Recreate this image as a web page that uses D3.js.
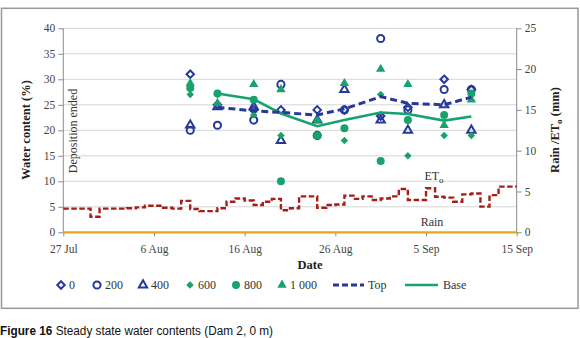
<!DOCTYPE html>
<html>
<head>
<meta charset="utf-8">
<script src="https://cdn.jsdelivr.net/npm/d3@7"></script>
<style>
  body { margin: 0; background: #fff; }
  .axis path, .axis line { stroke: #8c8c8c; }
</style>
</head>
<body>
<script>
const start = '2010-07-27';
const xTicks = ['2010-07-27', '2010-08-06', '2010-08-16', '2010-08-26', '2010-09-05', '2010-09-15'];

// fechas de medicion
const dates = ['2010-08-10', '2010-08-13', '2010-08-17', '2010-08-20', '2010-08-24',
               '2010-08-27', '2010-08-31', '2010-09-03', '2010-09-07', '2010-09-10'];

const d0    = [31, 25, 24, 24, 24, 24, 22.8, 24.5, 30, 28];
const d200  = [20, 21, 22, 29, 19, 24, 38, 24, 28, 28];
const d400  = [21, 24.6, 24.6, 18, 22, 28, 22, 20, 25, 20];
const d600  = [27, 27, 23, 19, 22, 18, 27, 15, 19, 19];
const d800  = [28.3, 27.2, 26, 10, 19, 20.4, 14, 22, 23, 27.2];
const d1000 = [29.2, 25.3, 29, 28, 22, 29.2, 32, 29, 21, 26];

// promedio superior / base (desde el 13 Aug)
const lineDates = dates.slice(1);
const top_ = [24.5, 23.8, 23.5, 23, 24.2, 26.6, 25.3, 25, 26.5];
const base = [27.2, 26.1, 23.3, 20.8, 22, 23.5, 23.2, 21.9, 22.7];

// ETo diario (mm), desde 27 Jul; el ultimo valor se repite para cerrar el escalon en 15 Sep
const eto = [2.9, 2.9, 2.9, 1.9, 2.9, 2.9, 2.9, 2.95, 3.05, 3.25,
             3.25, 3.0, 2.9, 3.85, 2.85, 2.6, 2.6, 2.95, 3.75, 4.15,
             3.9, 3.35, 3.75, 4.1, 2.7, 2.95, 4.4, 4.4, 3.0, 3.35,
             3.4, 4.5, 4.1, 4.4, 3.95, 4.15, 4.4, 5.3, 3.95, 3.95,
             5.4, 4.35, 4.25, 3.75, 4.65, 4.75, 3.15, 4.55, 5.6, 5.6, 5.6];
const rain = [0, 0, 0, 0, 0, 0, 0, 0, 0, 0, 0, 0, 0, 0, 0, 0, 0, 0, 0, 0,
              0, 0, 0, 0, 0, 0, 0, 0, 0, 0, 0, 0, 0, 0, 0, 0, 0, 0, 0, 0,
              0, 0, 0, 0, 0, 0, 0, 0, 0, 0, 0];

const leftTicks = [0, 5, 10, 15, 20, 25, 30, 35, 40];
const rightTicks = [0, 5, 10, 15, 20, 25];

const BLUE = '#26399a', GREEN = '#16a36c', RED = '#a61e1a', GOLD = '#e9a81c';
const SERIF = '"Liberation Serif", "DejaVu Serif", serif';

const WIDTH = 580, HEIGHT = 338;
const margin = {top: 28.3, right: 63.3, bottom: 105.7, left: 63.3};
const width = WIDTH - margin.left - margin.right,
    height = HEIGHT - margin.top - margin.bottom;

const parse = d3.timeParse('%Y-%m-%d');

const svgRoot = d3.select('body').append('svg')
    .attr('width', WIDTH)
    .attr('height', HEIGHT)
    .attr('font-family', SERIF);

// marco exterior
svgRoot.append('rect')
    .attr('x', 1.5).attr('y', 8.3)
    .attr('width', 576.5).attr('height', 300)
    .attr('fill', 'none')
    .attr('stroke', '#999')
    .attr('stroke-width', 1.5);

const svg = svgRoot.append('g')
    .attr('transform', `translate(${margin.left},${margin.top})`);

const x = d3.scaleTime()
    .domain([parse(start), parse(xTicks[xTicks.length - 1])])
    .range([0, width]);
const y = d3.scaleLinear().domain([0, 40]).range([height, 0]);
const y2 = d3.scaleLinear().domain([0, 25]).range([height, 0]);

// lineas de grilla
svg.append('g').selectAll('line')
    .data(leftTicks.slice(1))
    .enter().append('line')
        .attr('x1', 0).attr('x2', width)
        .attr('y1', d => y(d)).attr('y2', d => y(d))
        .attr('stroke', '#d6d6d6')
        .attr('stroke-width', 1);

const styleAxis = g => g
    .attr('font-family', SERIF)
    .attr('font-size', 11.5)
    .call(g => g.selectAll('text').attr('fill', '#444'));

// ejes
svg.append('g')
    .attr('class', 'axis')
    .attr('transform', `translate(0,${height})`)
    .call(d3.axisBottom(x).tickValues(xTicks.map(parse)).tickFormat(d3.timeFormat('%-d %b')).tickSize(4).tickSizeOuter(0))
    .call(styleAxis)
    .call(g => g.selectAll('text').attr('dy', '1.15em'));

svg.append('g')
    .attr('class', 'axis')
    .call(d3.axisLeft(y).tickValues(leftTicks).tickSize(5).tickSizeOuter(0))
    .call(styleAxis)
    .call(g => g.select('.domain').attr('d', `M0,${height + 0.5}V0`));

svg.append('g')
    .attr('class', 'axis')
    .attr('transform', `translate(${width},0)`)
    .call(d3.axisRight(y2).tickValues(rightTicks).tickSize(5).tickSizeOuter(0))
    .call(styleAxis)
    .call(g => g.select('.domain').attr('d', `M0,${height + 0.5}V0`));

// ETo y lluvia (eje derecho)
const dayDate = i => d3.timeDay.offset(parse(start), i);

svg.append('path')
    .datum(rain)
    .attr('fill', 'none')
    .attr('stroke', GOLD)
    .attr('stroke-width', 2)
    .attr('d', d3.line().x((d, i) => x(dayDate(i))).y(d => y2(d)));

svg.append('path')
    .datum(eto)
    .attr('fill', 'none')
    .attr('stroke', RED)
    .attr('stroke-width', 2.4)
    .attr('stroke-dasharray', '5.5,2.5')
    .attr('d', d3.line().curve(d3.curveStepAfter).x((d, i) => x(dayDate(i))).y(d => y2(d)));

// puntos por profundidad
const diamond = {
    draw(ctx, size) {
        const r = Math.sqrt(size) / 2;
        ctx.moveTo(0, -r); ctx.lineTo(r, 0); ctx.lineTo(0, r); ctx.lineTo(-r, 0); ctx.closePath();
    }
};

const series = [
    {key: '0',     values: d0,    color: BLUE,  filled: false, type: diamond,           size: 56},
    {key: '200',   values: d200,  color: BLUE,  filled: false, type: d3.symbolCircle,   size: 40},
    {key: '400',   values: d400,  color: BLUE,  filled: false, type: d3.symbolTriangle, size: 30},
    {key: '600',   values: d600,  color: GREEN, filled: true,  type: diamond,           size: 56},
    {key: '800',   values: d800,  color: GREEN, filled: true,  type: d3.symbolCircle,   size: 50},
    {key: '1 000', values: d1000, color: GREEN, filled: true,  type: d3.symbolTriangle, size: 38}
];

const lineGen = d3.line().x((d, i) => x(parse(lineDates[i]))).y(d => y(d));

svg.selectAll('.serie')
    .data(series)
    .enter().append('g')
        .attr('class', 'serie')
    .each(function(s) {
        d3.select(this).selectAll('path')
            .data(s.values)
            .enter().append('path')
                .attr('transform', (d, i) => `translate(${x(parse(dates[i]))},${y(d)})`)
                .attr('d', d3.symbol().type(s.type).size(s.size))
                .attr('fill', s.filled ? s.color : 'none')
                .attr('stroke', s.filled ? 'none' : s.color)
                .attr('stroke-width', 2);
    });

svg.append('path')
    .datum(base)
    .attr('fill', 'none')
    .attr('stroke', GREEN)
    .attr('stroke-width', 2.6)
    .attr('d', lineGen);

svg.append('path')
    .datum(top_)
    .attr('fill', 'none')
    .attr('stroke', BLUE)
    .attr('stroke-width', 3)
    .attr('stroke-dasharray', '7,4')
    .attr('d', lineGen);

// anotaciones
svg.append('text')
    .attr('transform', `translate(${77 - margin.left},${131 - margin.top}) rotate(-90)`)
    .attr('text-anchor', 'middle')
    .attr('font-size', 12)
    .attr('fill', '#333')
    .text('Deposition ended');

const etoLabel = svg.append('text')
    .attr('x', 434 - margin.left)
    .attr('y', 180 - margin.top)
    .attr('text-anchor', 'middle')
    .attr('font-size', 12)
    .attr('fill', '#333')
    .text('ET');
etoLabel.append('tspan').attr('dy', 3).attr('font-size', 9).text('o');

svg.append('text')
    .attr('x', 432 - margin.left)
    .attr('y', 226 - margin.top)
    .attr('text-anchor', 'middle')
    .attr('font-size', 12)
    .attr('fill', '#333')
    .text('Rain');

// titulos de ejes
svgRoot.append('text')
    .attr('transform', 'translate(30,130) rotate(-90)')
    .attr('text-anchor', 'middle')
    .attr('font-weight', 'bold')
    .attr('font-size', 12.5)
    .attr('fill', '#222')
    .text('Water content (%)');

const rTitle = svgRoot.append('text')
    .attr('transform', 'translate(559,130) rotate(-90)')
    .attr('text-anchor', 'middle')
    .attr('font-weight', 'bold')
    .attr('font-size', 12.5)
    .attr('fill', '#222')
    .text('Rain /ET');
rTitle.append('tspan').attr('dy', 3).attr('font-size', 9).text('o');
rTitle.append('tspan').attr('dy', -3).text(' (mm)');

svgRoot.append('text')
    .attr('x', 310).attr('y', 269)
    .attr('text-anchor', 'middle')
    .attr('font-weight', 'bold')
    .attr('font-size', 12.5)
    .attr('fill', '#222')
    .text('Date');

// leyenda
const legendPos = [61, 97, 143, 190, 236, 282];
const legend = svgRoot.selectAll('.legend')
    .data(series)
    .enter().append('g')
        .attr('class', 'legend')
        .attr('transform', (d, i) => `translate(${legendPos[i]},285)`);

legend.append('path')
    .attr('d', s => d3.symbol().type(s.type).size(s.size)())
    .attr('fill', s => s.filled ? s.color : 'none')
    .attr('stroke', s => s.filled ? 'none' : s.color)
    .attr('stroke-width', 2);

legend.append('text')
    .attr('x', 8)
    .attr('dy', '0.35em')
    .attr('font-size', 12)
    .attr('fill', '#333')
    .text(s => s.key);

svgRoot.append('line')
    .attr('x1', 333).attr('x2', 364).attr('y1', 285).attr('y2', 285)
    .attr('stroke', BLUE).attr('stroke-width', 3).attr('stroke-dasharray', '6,3');
svgRoot.append('text')
    .attr('x', 368).attr('y', 285).attr('dy', '0.35em')
    .attr('font-size', 12).attr('fill', '#333').text('Top');

svgRoot.append('line')
    .attr('x1', 405).attr('x2', 438).attr('y1', 285).attr('y2', 285)
    .attr('stroke', GREEN).attr('stroke-width', 2.6);
svgRoot.append('text')
    .attr('x', 443).attr('y', 285).attr('dy', '0.35em')
    .attr('font-size', 12).attr('fill', '#333').text('Base');

// pie de figura
const caption = svgRoot.append('text')
    .attr('x', 0).attr('y', 335)
    .attr('font-family', '"Liberation Sans", sans-serif')
    .attr('font-size', 12.5)
    .attr('fill', '#111')
    .attr('textLength', 273)
    .attr('lengthAdjust', 'spacingAndGlyphs');
caption.append('tspan').attr('font-weight', 'bold').text('Figure 16');
caption.append('tspan').text(' Steady state water contents (Dam 2, 0 m)');
</script>
</body>
</html>
